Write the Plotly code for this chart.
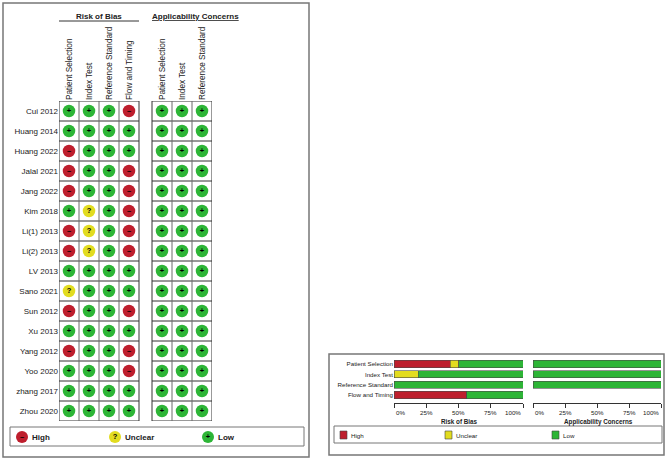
import plotly.graph_objects as go

# QUADAS-2 judgements per study (H = high, U = unclear, L = low)
studies = ["Cui 2012", "Huang 2014", "Huang 2022", "Jalal 2021", "Jang 2022", "Kim 2018",
           "Li(1) 2013", "Li(2) 2013", "LV 2013", "Sano 2021", "Sun 2012", "Xu 2013",
           "Yang 2012", "Yoo 2020", "zhang 2017", "Zhou 2020"]

rob_domains = ["Patient Selection", "Index Test", "Reference Standard", "Flow and Timing"]
app_domains = ["Patient Selection", "Index Test", "Reference Standard"]

rob_patient = ["L", "L", "H", "H", "H", "L", "H", "H", "L", "U", "H", "L", "H", "L", "L", "L"]
rob_index = ["L", "L", "L", "L", "L", "U", "U", "U", "L", "L", "L", "L", "L", "L", "L", "L"]
rob_reference = ["L", "L", "L", "L", "L", "L", "L", "L", "L", "L", "L", "L", "L", "L", "L", "L"]
rob_flow = ["H", "L", "L", "H", "H", "H", "H", "H", "L", "L", "H", "L", "H", "H", "L", "L"]

app_patient = ["L", "L", "L", "L", "L", "L", "L", "L", "L", "L", "L", "L", "L", "L", "L", "L"]
app_index = ["L", "L", "L", "L", "L", "L", "L", "L", "L", "L", "L", "L", "L", "L", "L", "L"]
app_reference = ["L", "L", "L", "L", "L", "L", "L", "L", "L", "L", "L", "L", "L", "L", "L", "L"]

pct_ticks = [0, 25, 50, 75, 100]
pct_labels = ["0%", "25%", "50%", "75%", "100%"]

legend_names = ["High", "Unclear", "Low"]

RED = "#BE1E2D"
YELLOW = "#E2DC1F"
GREEN = "#2DB536"
colors = {"H": RED, "U": YELLOW, "L": GREEN}
signs = {"H": "–", "U": "?", "L": "+"}
FONT = "Liberation Sans, Arial, sans-serif"
TXT = "#222"

W, H = 670, 462


def px(x):
    return x / W


def py(y):
    return 1 - y / H


fig = go.Figure()

# ---- left panel: traffic light grid ----
rob_cols = [rob_patient, rob_index, rob_reference, rob_flow]
app_cols = [app_patient, app_index, app_reference]
rob_x = [0, 1, 2, 3]
app_x = [4.65, 5.65, 6.65]

# cell borders (inner verticals lighter than the rest)
n = len(studies)
for xs in [rob_x, app_x]:
    left, right = xs[0] - 0.5, xs[-1] + 0.5
    for j in range(n + 1):
        yv = j - 0.5
        fig.add_shape(type="line", xref="x", yref="y", x0=left, x1=right, y0=yv, y1=yv,
                      line=dict(color="#333", width=1))
    for i in range(len(xs) + 1):
        xv = xs[0] - 0.5 + i
        outer = i == 0 or i == len(xs)
        fig.add_shape(type="line", xref="x", yref="y", x0=xv, x1=xv, y0=-0.5, y1=n - 0.5,
                      line=dict(color="#333" if outer else "#6a6a6a", width=1))

for xs, cols in [(rob_x, rob_cols), (app_x, app_cols)]:
    for xc, col in zip(xs, cols):
        fig.add_trace(go.Scatter(
            x=[xc] * len(studies), y=list(range(len(studies))),
            mode="markers+text",
            marker=dict(size=12.5, color=[colors[v] for v in col], line=dict(width=0)),
            text=["<b>%s</b>" % signs[v] for v in col],
            textposition="middle center",
            textfont=dict(size=7.5, color="black", family=FONT),
            hoverinfo="skip", showlegend=False, xaxis="x", yaxis="y"))

# legend for the grid (own axis in pixel units of the legend box)
leg_x = [22, 115, 208]
leg_y = 437
fig.add_trace(go.Scatter(
    x=leg_x, y=[leg_y] * 3, mode="markers+text",
    marker=dict(size=12, color=[RED, YELLOW, GREEN]),
    text=["<b>–</b>", "<b>?</b>", "<b>+</b>"], textposition="middle center",
    textfont=dict(size=7.5, color="black", family=FONT),
    hoverinfo="skip", showlegend=False, xaxis="x4", yaxis="y4"))
for lx, name in zip(leg_x, legend_names):
    fig.add_annotation(x=lx + 7.5, y=leg_y + 0.5, xref="x4", yref="y4", text="<b>%s</b>" % name,
                       showarrow=False, xanchor="left", yanchor="middle",
                       font=dict(size=8, color=TXT, family=FONT))

# group titles
fig.add_annotation(x=px(99), y=py(16.5), xref="paper", yref="paper", text="<b>Risk of Bias</b>",
                   showarrow=False, xanchor="center", yanchor="middle",
                   font=dict(size=8, color=TXT, family=FONT))
fig.add_shape(type="line", xref="paper", yref="paper", x0=px(59), x1=px(139), y0=py(21), y1=py(21),
              line=dict(color="#333", width=1))
fig.add_annotation(x=px(195), y=py(16.5), xref="paper", yref="paper",
                   text="<b><u>Applicability Concerns</u></b>",
                   showarrow=False, xanchor="center", yanchor="middle",
                   font=dict(size=8, color=TXT, family=FONT))

# panel borders
fig.add_shape(type="rect", xref="paper", yref="paper", x0=px(3), x1=px(309), y0=py(3), y1=py(457),
              line=dict(color="#777", width=1.5))
fig.add_shape(type="rect", xref="paper", yref="paper", x0=px(10), x1=px(304), y0=py(427), y1=py(446),
              line=dict(color="#777", width=1))

# ---- right panel: summary bars ----


def shares(col):
    return [100 * col.count(k) / len(col) for k in ["H", "U", "L"]]


rob_share = [shares(c) for c in rob_cols]
app_share = [shares(c) for c in app_cols]

for k, (name, colr) in enumerate(zip(legend_names, [RED, YELLOW, GREEN])):
    fig.add_trace(go.Bar(
        x=[s[k] for s in rob_share], y=list(range(len(rob_domains))), orientation="h",
        width=0.7, marker=dict(color=colr, line=dict(color="#4a4a4a", width=0.6)),
        hoverinfo="skip", showlegend=False, xaxis="x2", yaxis="y2"))
    fig.add_trace(go.Bar(
        x=[s[k] for s in app_share], y=list(range(len(app_domains))), orientation="h",
        width=0.7, marker=dict(color=colr, line=dict(color="#4a4a4a", width=0.6)),
        hoverinfo="skip", showlegend=False, xaxis="x3", yaxis="y3"))

# percent labels: first one starts at its tick, last one ends at it
for xref in ["x2", "x3"]:
    for i, (tv, tl) in enumerate(zip(pct_ticks, pct_labels)):
        anchor = "left" if i == 0 else ("right" if i == len(pct_ticks) - 1 else "center")
        fig.add_annotation(x=tv, y=py(407), xref=xref, yref="paper", text=tl,
                           showarrow=False, xanchor=anchor, yanchor="top",
                           font=dict(size=6.2, color=TXT, family=FONT))

fig.add_annotation(x=px(459), y=py(421.5), xref="paper", yref="paper", text="<b>Risk of Bias</b>",
                   showarrow=False, xanchor="center", yanchor="middle",
                   font=dict(size=6.3, color=TXT, family=FONT))
fig.add_annotation(x=px(598), y=py(421.5), xref="paper", yref="paper",
                   text="<b>Applicability Concerns</b>",
                   showarrow=False, xanchor="center", yanchor="middle",
                   font=dict(size=6.3, color=TXT, family=FONT))

fig.add_shape(type="rect", xref="paper", yref="paper", x0=px(329), x1=px(664), y0=py(354), y1=py(455),
              line=dict(color="#777", width=1.5))
fig.add_shape(type="rect", xref="paper", yref="paper", x0=px(334), x1=px(662), y0=py(426), y1=py(443),
              line=dict(color="#777", width=1))
for sx, colr, name in zip([340, 445, 552], [RED, YELLOW, GREEN], legend_names):
    fig.add_shape(type="rect", xref="paper", yref="paper", x0=px(sx), x1=px(sx + 7),
                  y0=py(431), y1=py(439), fillcolor=colr, line=dict(color="#444", width=0.6))
    fig.add_annotation(x=px(sx + 8.5), y=py(435), xref="paper", yref="paper", text=name,
                       showarrow=False, xanchor="left", yanchor="middle",
                       font=dict(size=6.2, color=TXT, family=FONT))

axis_common = dict(showgrid=False, zeroline=False, automargin=False)
bar_x = dict(range=[0, 100], tickvals=pct_ticks, showticklabels=False, ticks="outside",
             ticklen=4, tickcolor="#333", showline=True, linecolor="#333", linewidth=1,
             **axis_common)
bar_y_range = [3.77, -0.5]
hidden = dict(visible=False, fixedrange=True, automargin=False)

fig.update_layout(
    width=W, height=H, margin=dict(l=0, r=0, t=0, b=0, autoexpand=False),
    paper_bgcolor="white", plot_bgcolor="rgba(0,0,0,0)",
    barmode="stack",
    xaxis=dict(domain=[px(59), px(212)], range=[-0.5, 7.15], side="top",
               tickvals=rob_x + app_x, ticktext=rob_domains + app_domains, tickangle=-90,
               ticks="", tickfont=dict(size=8.2, color=TXT, family=FONT), anchor="y",
               **axis_common),
    yaxis=dict(domain=[py(421), py(101)], range=[n - 0.5, -0.5],
               tickvals=list(range(n)), ticktext=studies, ticks="",
               tickfont=dict(size=8, color=TXT, family=FONT), anchor="x", **axis_common),
    xaxis2=dict(domain=[px(394), px(523)], anchor="y2", **bar_x),
    yaxis2=dict(domain=[py(403), py(358.8)], range=bar_y_range, anchor="x2",
                tickvals=list(range(len(rob_domains))), ticktext=rob_domains, ticks="",
                tickfont=dict(size=6.2, color=TXT, family=FONT), **axis_common),
    xaxis3=dict(domain=[px(533), px(661)], anchor="y3", **bar_x),
    yaxis3=dict(domain=[py(403), py(358.8)], range=bar_y_range, anchor="x3",
                showticklabels=False, ticks="", **axis_common),
    xaxis4=dict(domain=[px(10), px(304)], range=[10, 304], anchor="y4", **hidden),
    yaxis4=dict(domain=[py(446), py(427)], range=[446, 427], anchor="x4", **hidden),
)

# the page's default body margin would push the fixed-size figure off the window
page_fix = ("document.body.style.margin='0';"
            "document.body.style.overflow='hidden';"
            "document.documentElement.style.overflow='hidden';")
fig.write_html("out.html", post_script=page_fix, config={"displayModeBar": False})
